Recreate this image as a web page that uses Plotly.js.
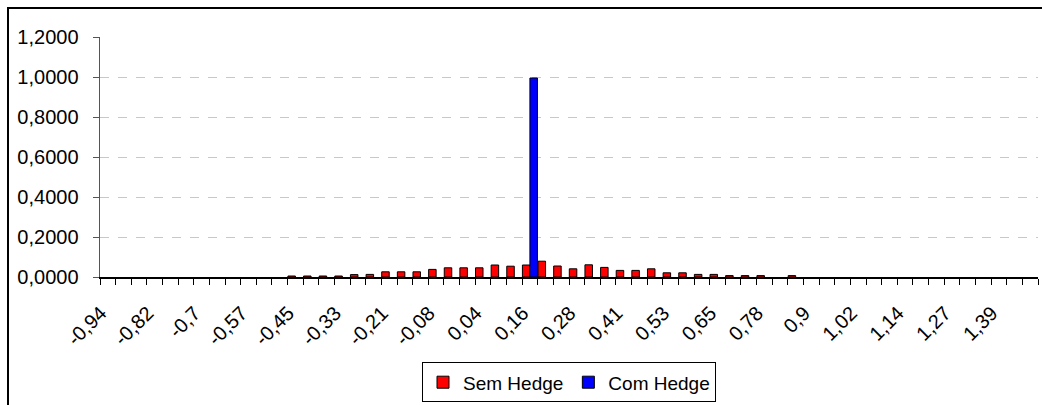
<!DOCTYPE html>
<html>
<head>
<meta charset="utf-8">
<script src="https://cdn.plot.ly/plotly-3.0.1.min.js"></script>
<style>
html,body{margin:0;padding:0;background:#fff;overflow:hidden;}
#frame{position:absolute;left:7px;top:7px;width:1100px;height:500px;border-left:2px solid #000;border-top:2px solid #000;pointer-events:none;}
#chart{position:absolute;left:0;top:0;width:1042px;height:405px;}
</style>
</head>
<body>
<div id="chart"></div>
<div id="frame"></div>
<script>
// category labels (Portuguese decimal comma)
const categories = ["-0,94","-0,9","-0,86","-0,82","-0,78","-0,74","-0,7","-0,65","-0,61","-0,57",
"-0,53","-0,49","-0,45","-0,41","-0,37","-0,33","-0,29","-0,25","-0,21","-0,16",
"-0,12","-0,08","-0,04","0","0,04","0,08","0,12","0,16","0,2","0,24",
"0,28","0,33","0,37","0,41","0,45","0,49","0,53","0,57","0,61","0,65",
"0,69","0,73","0,78","0,82","0,86","0,9","0,94","0,98","1,02","1,06",
"1,1","1,14","1,18","1,22","1,27","1,31","1,35","1,39","1,43","1,47"];

// tick labels shown (every third category)
const tickLabels = ["-0,94","-0,82","-0,7","-0,57","-0,45","-0,33","-0,21","-0,08","0,04","0,16",
"0,28","0,41","0,53","0,65","0,78","0,9","1,02","1,14","1,27","1,39"];

// null = empty category (no bar drawn)
const semHedge = [null,null,null,null,null,null,null,null,null,null,
null,null,0.005,0.005,0.005,0.005,0.012,0.013,0.026,0.026,
0.026,0.038,0.046,0.046,0.046,0.060,0.054,0.060,0.079,0.055,
0.041,0.061,0.048,0.033,0.033,0.041,0.021,0.021,0.013,0.013,
0.007,0.007,0.007,null,0.007,null,null,null,null,null,
null,null,null,null,null,null,null,null,null,null];

const comHedge = [null,null,null,null,null,null,null,null,null,null,
null,null,null,null,null,null,null,null,null,null,
null,null,null,null,null,null,null,0.995,null,null,
null,null,null,null,null,null,null,null,null,null,
null,null,null,null,null,null,null,null,null,null,
null,null,null,null,null,null,null,null,null,null];

const yTicks = [0,0.2,0.4,0.6,0.8,1.0,1.2];

const tickText = categories.map(c => tickLabels.includes(c) ? c : "");

const font = {family: "Liberation Sans, Arial, sans-serif", size: 20, color: "#000"};
const legendFont = {family: "Liberation Sans, Arial, sans-serif", size: 19, color: "#000"};

const traces = [
  {type: "bar", name: "Sem Hedge", x: categories, y: semHedge,
   marker: {color: "#FF0000", line: {color: "#000", width: 1}}},
  {type: "bar", name: "Com Hedge", x: categories, y: comHedge,
   marker: {color: "#0000FF", line: {color: "#000", width: 1}}}
];

const layout = {
  width: 1042, height: 405,
  margin: {l: 100, r: 4, t: 37, b: 127},
  paper_bgcolor: "rgba(0,0,0,0)", plot_bgcolor: "#fff",
  separators: ",.",
  font: font,
  barmode: "group", bargap: 0.04, bargroupgap: 0,
  showlegend: true,
  legend: {orientation: "h", x: 0.5, xanchor: "center", y: -0.35, yanchor: "top",
           bordercolor: "#000", borderwidth: 1, font: legendFont, bgcolor: "#fff",
           itemwidth: 30, tracegroupgap: 0},
  xaxis: {type: "category", categoryorder: "array", categoryarray: categories,
          tickmode: "array", tickvals: categories, ticktext: tickText,
          tickson: "boundaries", ticks: "outside", ticklen: 6, tickcolor: "#000",
          tickangle: -45, tickfont: font, showgrid: false,
          ticklabelstandoff: 15, ticklabelshift: -7,
          showline: true, linecolor: "#000", linewidth: 1.5, zeroline: false,
          range: [-0.5, categories.length - 0.5], fixedrange: true},
  yaxis: {range: [0, 1.2], tickmode: "array", tickvals: yTicks, tickformat: ".4f",
          ticks: "outside", ticklen: 6, tickcolor: "#555", tickfont: font,
          ticklabelstandoff: 10,
          showline: true, linecolor: "#555", linewidth: 1.5,
          showgrid: true, gridcolor: "#c8c8c8", griddash: "dash", gridwidth: 1,
          zeroline: false, fixedrange: true}
};

Plotly.newPlot("chart", traces, layout, {displayModeBar: false, staticPlot: true});
</script>
</body>
</html>
